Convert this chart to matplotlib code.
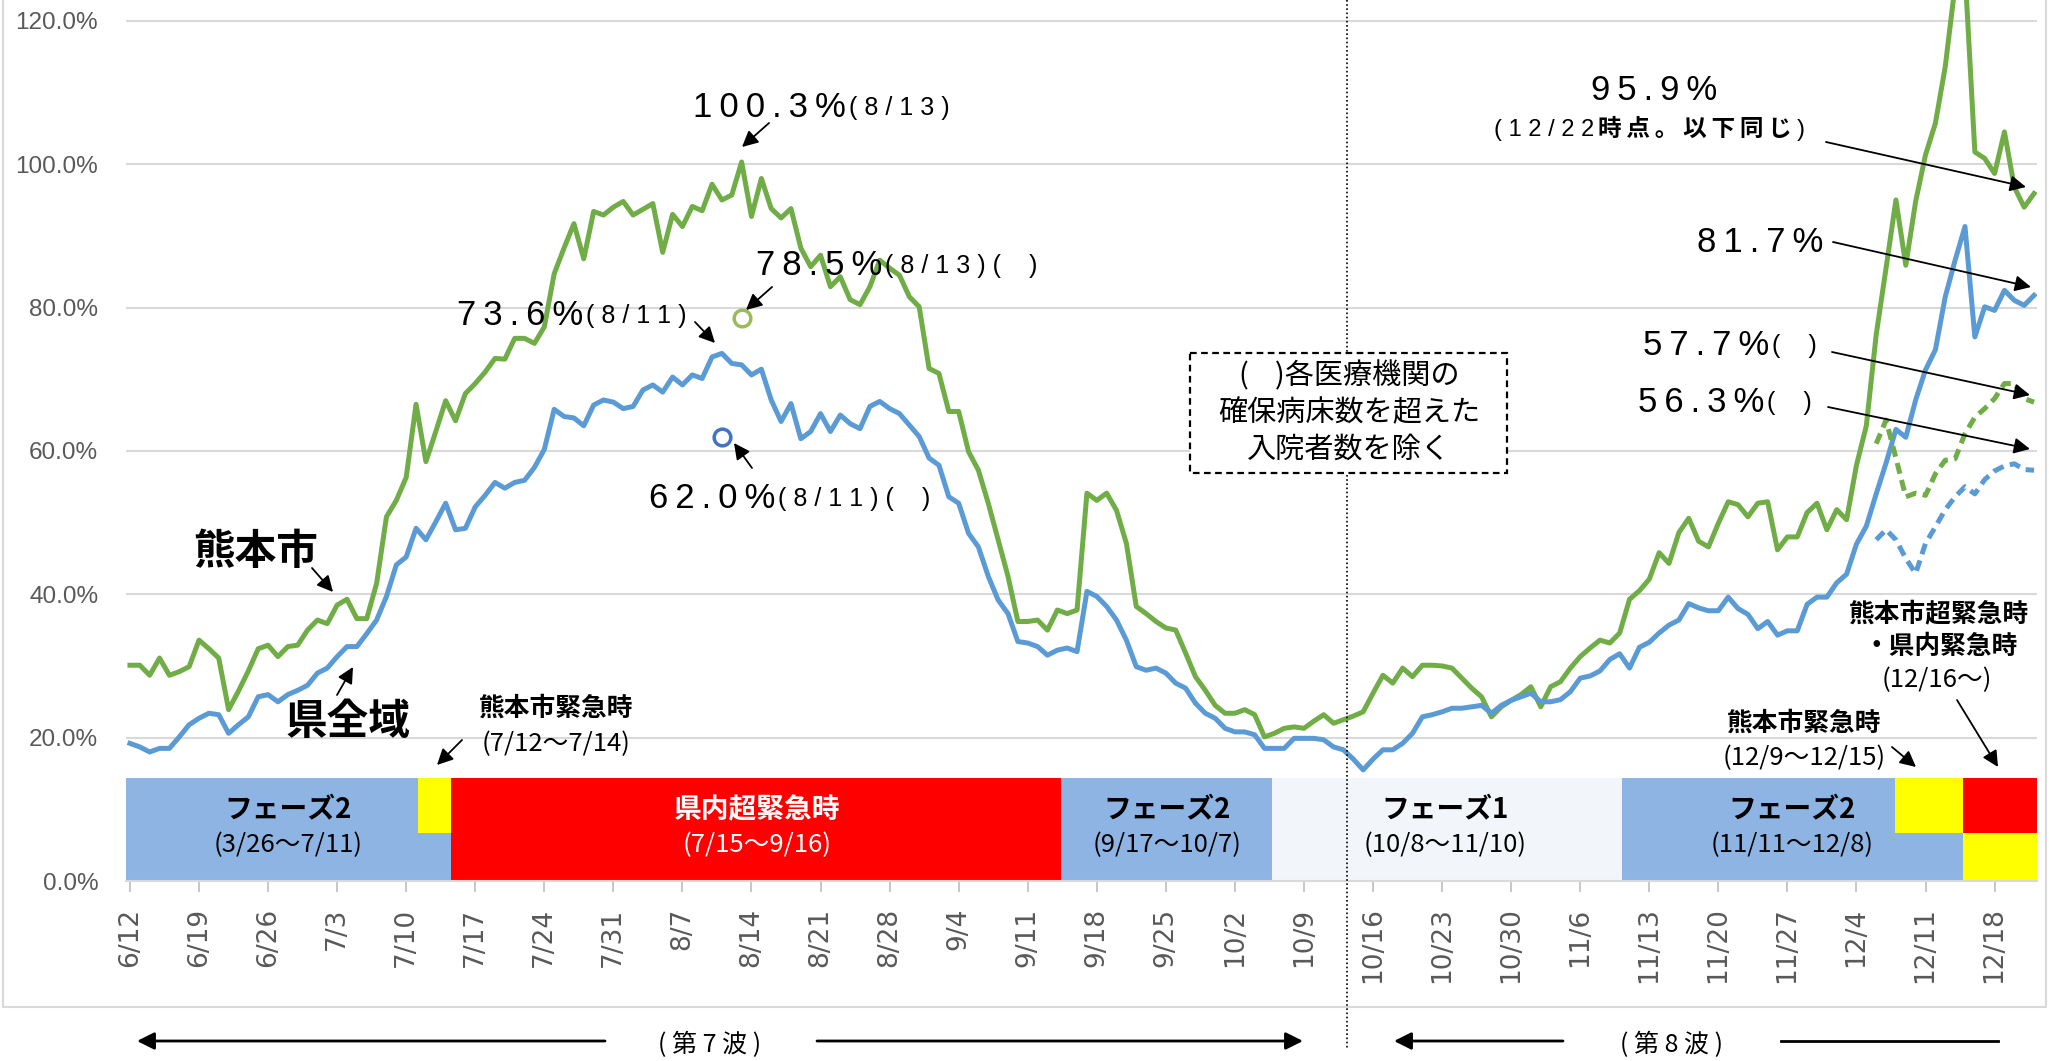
import matplotlib
matplotlib.use("Agg")
import matplotlib.pyplot as plt
import matplotlib.transforms as mtransforms
from matplotlib.patches import Rectangle
from matplotlib.lines import Line2D
import pandas as pd

JP = ["Noto Sans CJK JP", "DejaVu Sans"]
NUM = ["Liberation Sans", "DejaVu Sans"]

# 病床使用率（6/12〜12/22 日別）
dates = pd.date_range("2022-06-12", "2022-12-22", freq="D")
kumamoto_city = [
    30.1, 30.1, 28.7, 31.1, 28.7, 29.2, 29.9, 33.6, 32.4, 31.1,
    23.9, 26.5, 29.3, 32.4, 32.9, 31.3, 32.7, 32.9, 35.0, 36.4,
    35.9, 38.5, 39.3, 36.6, 36.6, 41.5, 50.8, 53.1, 56.3, 66.5,
    58.5, 62.7, 67.0, 64.2, 68.0, 69.4, 71.0, 72.9, 72.8, 75.7,
    75.7, 75.0, 77.3, 84.7, 88.3, 91.7, 86.8, 93.4, 92.9, 94.0,
    94.8, 92.9, 93.7, 94.5, 87.7, 93.0, 91.3, 94.1, 93.5, 97.2,
    95.0, 95.7, 100.3, 92.7, 98.0, 93.8, 92.5, 93.8, 88.3, 85.7,
    87.3, 82.9, 84.3, 81.1, 80.4, 82.9, 86.6, 85.5, 84.5, 81.5,
    80.1, 71.5, 70.8, 65.5, 65.5, 59.9, 57.3, 52.7, 47.6, 42.5,
    36.2, 36.2, 36.4, 35.0, 37.8, 37.3, 37.8, 54.1, 53.1, 54.1,
    51.7, 47.1, 38.3, 37.3, 36.2, 35.3, 35.0, 31.8, 28.5, 26.6,
    24.5, 23.4, 23.4, 23.9, 23.2, 20.1, 20.6, 21.3, 21.5, 21.3,
    22.3, 23.2, 22.0, 22.5, 23.0, 23.6, 26.2, 28.7, 27.6, 29.7,
    28.5, 30.1, 30.1, 30.0, 29.7, 28.3, 26.9, 25.7, 22.9, 24.3,
    25.2, 26.0, 27.1, 24.3, 27.1, 27.8, 29.7, 31.3, 32.5, 33.6,
    33.2, 34.6, 39.3, 40.5, 42.1, 45.8, 44.3, 48.6, 50.6, 47.4,
    46.6, 49.9, 52.9, 52.5, 50.8, 52.7, 52.9, 46.2, 48.0, 48.0,
    51.4, 52.7, 49.0, 51.8, 50.4, 58.0, 63.5, 76.2, 85.5, 95.0,
    85.9, 94.8, 101.3, 105.7, 113.6, 125.0, 127.0, 101.7, 100.8, 98.7,
    104.5, 96.8, 94.0, 95.9,
]
prefecture = [
    19.2, 18.7, 18.0, 18.5, 18.5, 20.1, 21.8, 22.7, 23.4, 23.2,
    20.6, 21.8, 22.9, 25.7, 26.0, 25.0, 26.0, 26.6, 27.3, 29.0,
    29.7, 31.3, 32.7, 32.7, 34.5, 36.4, 39.7, 44.1, 45.2, 49.2,
    47.6, 50.1, 52.7, 49.0, 49.2, 52.2, 53.8, 55.6, 54.8, 55.6,
    55.9, 57.7, 60.2, 65.8, 64.8, 64.6, 63.5, 66.4, 67.1, 66.8,
    65.9, 66.2, 68.5, 69.2, 68.2, 70.3, 69.2, 70.6, 70.1, 73.1,
    73.6, 72.2, 72.0, 70.6, 71.4, 67.1, 64.1, 66.6, 61.7, 62.7,
    65.2, 62.7, 65.0, 63.8, 63.1, 66.2, 66.9, 65.9, 65.2, 63.6,
    62.0, 59.0, 58.0, 53.6, 52.7, 48.5, 46.6, 42.5, 39.2, 37.3,
    33.4, 33.2, 32.7, 31.5, 32.2, 32.5, 32.0, 40.4, 39.7, 38.3,
    36.4, 33.6, 29.9, 29.4, 29.7, 29.0, 27.6, 26.9, 24.8, 23.4,
    22.7, 21.3, 20.8, 20.8, 20.4, 18.5, 18.5, 18.5, 19.9, 19.9,
    19.9, 19.7, 18.7, 18.3, 17.0, 15.5, 17.0, 18.3, 18.3, 19.2,
    20.6, 22.9, 23.2, 23.6, 24.1, 24.1, 24.3, 24.5, 23.4, 24.5,
    25.2, 25.7, 26.2, 25.0, 25.0, 25.3, 26.4, 28.3, 28.6, 29.3,
    30.9, 31.7, 29.7, 32.6, 33.3, 34.6, 35.7, 36.4, 38.7, 38.1,
    37.7, 37.7, 39.6, 38.0, 37.2, 35.2, 36.2, 34.3, 34.9, 34.9,
    38.6, 39.6, 39.6, 41.6, 42.8, 47.0, 49.5, 54.0, 58.3, 63.0,
    61.9, 67.1, 71.3, 74.1, 81.5, 86.6, 91.3, 75.9, 80.1, 79.6,
    82.4, 81.0, 80.3, 81.7,
]

# ( )各医療機関の確保病床数を超えた入院者数を除く（12/6〜）
excl_dates = pd.date_range("2022-12-06", "2022-12-22", freq="D")
kumamoto_city_excl = [61.0, 64.3, 59.0, 53.6, 54.1, 53.8, 56.8, 58.7, 58.9,
                      62.4, 64.7, 65.9, 67.3, 69.4, 69.4, 67.3, 66.8]
prefecture_excl = [47.6, 49.0, 47.6, 45.0, 42.9, 47.1, 49.4, 51.8, 53.6,
                   55.0, 54.0, 56.0, 57.2, 57.9, 58.2, 57.4, 57.3]

# 8/13 熊本市、8/11 県全域（除外後）
circle_dates = ["2022-08-13", "2022-08-11"]
circle_values = [78.5, 62.0]

# フェーズ帯（6/12からの日数）
band_start = [-0.4, 29.2, 32.5, 94.4, 115.8, 151.2, 178.9, 185.8, 185.8]
band_end = [32.5, 32.5, 94.4, 115.8, 151.2, 185.8, 185.8, 193.3, 193.3]
band_low = [0, 6.7, 0, 0, 0, 0, 6.7, 6.7, 0]
band_high = [14.4, 14.4, 14.4, 14.4, 14.4, 14.4, 14.4, 14.4, 6.7]
band_colors = ["#8EB4E3", "#FFFF00", "#FF0000", "#8EB4E3", "#F2F6FA",
               "#8EB4E3", "#FFFF00", "#FF0000", "#FFFF00"]

phase_names = ["フェーズ2", "県内超緊急時", "フェーズ2", "フェーズ1", "フェーズ2"]
phase_periods = ["(3/26～7/11)", "(7/15～9/16)", "(9/17～10/7)",
                 "(10/8～11/10)", "(11/11～12/8)"]
phase_center = [16.0, 63.6, 105.1, 133.3, 168.5]
phase_text_color = ["black", "white", "black", "black", "black"]

GREEN = "#70AD47"
BLUE = "#5B9BD5"
GRAY = "#595959"

W, H = 2049, 1061
fig = plt.figure(figsize=(W / 100, H / 100), dpi=100)
ax = fig.add_axes([126 / W, 180 / H, 1911 / W, 881 / H])
TL = mtransforms.Affine2D().scale(1, -1).translate(0, H)   # 左上原点のピクセル


def days(d):
    return (pd.to_datetime(d) - dates[0]).days


x = [days(d) for d in dates]
xe = [days(d) for d in excl_dates]

# 帯
for x0, x1, y0, y1, c in zip(band_start, band_end, band_low, band_high, band_colors):
    ax.add_patch(Rectangle((x0, y0), x1 - x0, y1 - y0, color=c, lw=0, zorder=1))
for cx, name, per, tc in zip(phase_center, phase_names, phase_periods, phase_text_color):
    ax.text(cx, 9.8, name, ha="center", va="center", fontsize=20,
            fontweight="bold", family=JP, color=tc, zorder=3)
    ax.text(cx, 5.0, per, ha="center", va="center", fontsize=18.5,
            family=JP, color=tc, zorder=3)

# 折れ線
ax.plot(x, kumamoto_city, color=GREEN, lw=3.6, zorder=4)
ax.plot(x, prefecture, color=BLUE, lw=3.6, zorder=4)
ax.plot(xe, kumamoto_city_excl, color=GREEN, lw=3.6, ls=(0, (2.2, 1.3)), zorder=4)
ax.plot(xe, prefecture_excl, color=BLUE, lw=3.6, ls=(0, (2.2, 1.3)), zorder=4)
ax.plot(days(circle_dates[0]), circle_values[0], "o", ms=12, mfc="white",
        mec="#9BBB59", mew=2.5, zorder=5)
ax.plot(days(circle_dates[1]), circle_values[1], "o", ms=12, mfc="white",
        mec="#4472C4", mew=2.5, zorder=5)

# 軸
ax.set_xlim(-0.4, 193.3)
ax.set_ylim(0, 122.9)
ax.set_yticks([0, 20, 40, 60, 80, 100, 120])
ax.set_yticklabels([f"{v:.1f}%" for v in [0, 20, 40, 60, 80, 100, 120]],
                   family=NUM, fontsize=17.5, color=GRAY)
tick_days = x[::7]
ax.set_xticks(tick_days)
ax.set_xticklabels([f"{d.month}/{d.day}" for d in dates[::7]], rotation=90,
                   fontsize=19, color=GRAY)
ax.tick_params(axis="y", length=0, pad=20)
ax.tick_params(axis="x", length=8, width=1.2, color="#BFBFBF", pad=11)
for s in ["left", "right", "top"]:
    ax.spines[s].set_visible(False)
ax.spines["bottom"].set_color("#D9D9D9")
ax.spines["bottom"].set_linewidth(1.5)
ax.yaxis.grid(True, color="#D9D9D9", lw=1.5)
ax.set_axisbelow(True)

# 外枠
fig.add_artist(Line2D([3, 3, 2046, 2046], [-5, 1007, 1007, -5], transform=TL,
                      color="#D9D9D9", lw=1.5))


def spaced(s, sep="\u2009"):
    return sep.join(s)


def arrow(x0, y0, x1, y1, lw=1.3, ms=24):
    fig.add_artist(matplotlib.text.Annotation(
        "", xy=(x1, y1), xycoords=TL, xytext=(x0, y0), textcoords=TL,
        arrowprops=dict(arrowstyle="-|>", color="black", lw=lw,
                        mutation_scale=ms, shrinkA=0, shrinkB=0)))


def pct_label(x0, y0, big, small=None, ha="left"):
    t = fig.text(x0, y0, spaced(big), transform=TL, fontsize=25, family=NUM,
                 ha=ha, va="baseline", zorder=6)
    if small:
        fig.add_artist(matplotlib.text.Annotation(
            small, xy=(1, 0), xycoords=t, xytext=(2, 3), textcoords="offset points",
            fontsize=18, family=NUM, ha="left", va="bottom"))
    return t


pct_label(693, 117, "100.3%", spaced("(8/13)", " "))
pct_label(756, 275, "78.5%", spaced("(8/13)", " ") + " (    )")
pct_label(457, 325, "73.6%", spaced("(8/11)", " "))
pct_label(649, 508, "62.0%", spaced("(8/11)", " ") + " (    )")
pct_label(1654, 100, "95.9%", ha="center")
pct_label(1697, 252, "81.7%")
pct_label(1643, 355, "57.7%", "(    )")
pct_label(1638, 412, "56.3%", "(    )")

t1 = fig.text(1494, 136, spaced("(12/22", " "), transform=TL, fontsize=17,
              family=NUM, ha="left", va="baseline")
t2 = fig.add_artist(matplotlib.text.Annotation(
    spaced("時点。以下同じ"), xy=(1, 0), xycoords=t1, xytext=(3, 0),
    textcoords="offset points", fontsize=17, family=JP, fontweight="bold",
    ha="left", va="bottom"))
fig.add_artist(matplotlib.text.Annotation(
    ")", xy=(1, 0), xycoords=t2, xytext=(3, 0), textcoords="offset points",
    fontsize=17, family=NUM, ha="left", va="bottom"))

arrow(769, 123, 742, 147)
arrow(772, 287, 746, 310)
arrow(695, 322, 715, 343)
arrow(752, 468, 734, 443)
arrow(1826, 142, 2026, 187)
arrow(1833, 242, 2031, 287)
arrow(1832, 352, 2030, 395)
arrow(1828, 407, 2030, 449)

# 系列名
fig.text(256, 552, "熊本市", transform=TL, fontsize=30, fontweight="bold",
         family=JP, ha="center", va="center")
fig.text(348, 722, "県全域", transform=TL, fontsize=30, fontweight="bold",
         family=JP, ha="center", va="center")
arrow(312, 568, 333, 592)
arrow(337, 695, 353, 667)

# 緊急時の注記
fig.text(556, 708, "熊本市緊急時", transform=TL, fontsize=18.5, fontweight="bold",
         family=JP, ha="center", va="center")
fig.text(556, 744, "(7/12～7/14)", transform=TL, fontsize=18.5, family=JP,
         ha="center", va="center")
arrow(462, 740, 437, 765)

fig.text(1804, 723, "熊本市緊急時", transform=TL, fontsize=18.5, fontweight="bold",
         family=JP, ha="center", va="center")
fig.text(1804, 758, "(12/9～12/15)", transform=TL, fontsize=18.5, family=JP,
         ha="center", va="center")
arrow(1892, 747, 1916, 767)

fig.text(1939, 614, "熊本市超緊急時", transform=TL, fontsize=18.5, fontweight="bold",
         family=JP, ha="center", va="center")
fig.text(1941, 646, "・県内緊急時", transform=TL, fontsize=18.5, fontweight="bold",
         family=JP, ha="center", va="center")
fig.text(1937, 680, "(12/16～)", transform=TL, fontsize=18.5, family=JP,
         ha="center", va="center")
arrow(1957, 700, 1998, 767)

# 第7波/第8波 の区切り
fig.add_artist(Line2D([1347, 1347], [0, 1048], transform=TL, color="black",
                      lw=1.2, ls=(0, (1, 1.5)), zorder=4))
box = Rectangle((1190, 353), 317, 120, transform=TL, facecolor="white",
                edgecolor="black", lw=1.6, ls=(0, (3, 2)), zorder=5)
fig.add_artist(box)
for yy, line in zip([376, 413, 450], ["(    )各医療機関の", "確保病床数を超えた", "入院者数を除く"]):
    fig.text(1349, yy, line, transform=TL, fontsize=21, family=JP,
             ha="center", va="center", zorder=6)

arrow(605, 1041, 137, 1041, lw=2, ms=26)
arrow(817, 1041, 1303, 1041, lw=2, ms=26)
arrow(1563, 1041, 1394, 1041, lw=2, ms=26)
fig.add_artist(Line2D([1781, 1998], [1041, 1041], transform=TL, color="black", lw=2))
fig.text(710, 1045, "( 第 7 波 )", transform=TL, fontsize=18, family=JP,
         ha="center", va="center")
fig.text(1672, 1045, "( 第 8 波 )", transform=TL, fontsize=18, family=JP,
         ha="center", va="center")

fig.savefig("out.png", dpi=100)
